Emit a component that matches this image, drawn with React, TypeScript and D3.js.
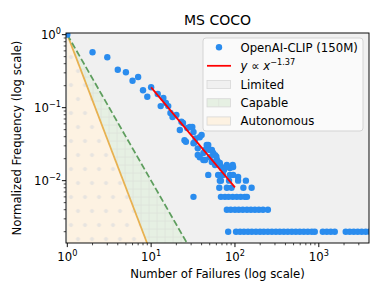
import React from 'react';
import * as d3 from 'd3';

const W = 382;
const H = 297;
const plot = { left: 66, right: 369, top: 33, bottom: 243 };

const xDomain: [number, number] = [0.965, 3970];
const yDomain: [number, number] = [0.0014, 1.054];

// leading points (1..10 failures)
const headFailures = [1, 2, 3, 4, 5, 6, 7, 8, 9, 10];
const headFreq = [1.0, 0.573, 0.49, 0.331, 0.305, 0.234, 0.263, 0.173, 0.141, 0.19];

// cloud around the fitted line
const cloudFailures = [12, 14, 13, 16, 15, 17, 18, 20, 22, 24, 27, 31, 32, 25, 32, 38, 36, 38, 42, 42, 48, 53, 58, 61, 66, 70, 80, 87, 95, 109, 46, 50, 55, 33, 29, 34, 44, 50, 63, 74, 53, 58, 36, 44, 66, 23, 26, 40, 60, 78, 94];
const cloudFreq = [0.154, 0.136, 0.105, 0.105, 0.116, 0.0845, 0.0745, 0.0794, 0.0494, 0.0616, 0.0526, 0.0543, 0.0464, 0.0357, 0.0325, 0.0393, 0.0277, 0.0209, 0.0239, 0.0192, 0.0308, 0.0263, 0.0224, 0.0192, 0.0175, 0.0149, 0.0164, 0.0149, 0.0154, 0.0112, 0.0308, 0.0263, 0.0239, 0.0336, 0.0543, 0.038, 0.0263, 0.0209, 0.018, 0.014, 0.018, 0.0164, 0.0225, 0.0192, 0.0164, 0.0642, 0.0342, 0.0422, 0.0213, 0.0155, 0.0164];

// quantized tail rows: frequency level and failure counts on it
const row012 = [48, 63, 70, 72, 87, 95];
const row010 = [66, 68, 85, 109, 135];
const row008 = [65, 80, 91, 126, 158];
const row006 = [32, 68, 76, 84, 94, 105, 117, 131, 139];
const row004 = [80, 89, 100, 111, 124, 139, 155, 173, 193, 216, 247];
const row002 = [83, 103, 115, 128, 143, 159, 178, 199, 221, 247, 276, 308, 343, 383, 427, 477, 532, 594, 663, 740, 826, 896, 1116, 1245, 1389, 1550, 2094, 2337, 2610, 2912, 3250, 3627, 4047];
const rowLevels = [0.012, 0.010, 0.008, 0.006, 0.004, 0.002];
const rows = [row012, row010, row008, row006, row004, row002];

// power-law fit
const fitExponent = -1.37;
const fitAnchor = 0.19;
const fitRange = [10, 100];

// region boundaries y = x^k
const capableExponent = -2;
const autonomousExponent = -3;
const boundaryX = [1, 60];

const xTickExp = ['0', '1', '2', '3'];
const yTickExp = ['0', '−1', '−2'];

const FONT = 'DejaVu Sans, sans-serif';
const FS = 11.7;
const BLUE = '#2a8cee';

const Pow: React.FC<{ exp: string }> = ({ exp }) => (
  <>
    <tspan>10</tspan>
    <tspan dy={-5.2} fontSize={8.2}>{exp}</tspan>
  </>
);

export default function App() {
  const x = d3.scaleLog().domain(xDomain).range([plot.left, plot.right]);
  const y = d3.scaleLog().domain(yDomain).range([plot.bottom, plot.top]);

  const points: [number, number][] = [];
  headFailures.forEach((f, i) => points.push([f, headFreq[i]]));
  cloudFailures.forEach((f, i) => points.push([f, cloudFreq[i]]));
  rows.forEach((r, i) => r.forEach(f => points.push([f, rowLevels[i]])));

  const line = d3.line<[number, number]>().x(d => x(d[0])).y(d => y(d[1]));
  const boundary = (k: number): [number, number][] => boundaryX.map(v => [v, Math.pow(v, k)] as [number, number]);
  const floor = 1e-5;
  const regionPath = (k: number) => {
    const b = boundary(k);
    return line([...b, [b[1][0], floor], [b[0][0], floor]]) + 'Z';
  };
  const fitPts: [number, number][] = fitRange.map(v => [v, fitAnchor * Math.pow(v / fitRange[0], fitExponent)]);

  const xTicks = x.ticks();
  const yTicks = y.ticks();
  const isMajor = (v: number) => Math.abs(Math.log10(v) - Math.round(Math.log10(v))) < 1e-9;
  const xMajors = [1, 10, 100, 1000];
  const yMajors = [1, 0.1, 0.01];

  const lg = { x: 203, y: 38, w: 160, h: 93 };
  const rowY = [47.3, 65.8, 84.5, 102.8, 121];
  const textX = 240.5;

  return (
    <svg width={W} height={H} style={{ position: 'absolute', left: 0, top: 0 }} fontFamily={FONT}>
      <defs>
        <clipPath id="plotClip">
          <rect x={plot.left} y={plot.top} width={plot.right - plot.left} height={plot.bottom - plot.top} />
        </clipPath>
        <pattern id="gridHatch" patternUnits="userSpaceOnUse" width={8} height={8} x={1} y={1}>
          <rect width={8} height={8} fill="#e6f0e3" />
          <path d="M4 0V8M0 4H8" stroke="#dde2db" strokeWidth={0.8} />
        </pattern>
        <pattern id="dotHatch" patternUnits="userSpaceOnUse" width={14} height={28} x={67.5} y={50}>
          <rect width={14} height={28} fill="#fdf2e2" />
          <circle cx={3.5} cy={7} r={1.6} fill="#e8e5e0" stroke="#dcdcdc" strokeWidth={0.6} />
          <circle cx={10.5} cy={21} r={1.6} fill="#e8e5e0" stroke="#dcdcdc" strokeWidth={0.6} />
        </pattern>
      </defs>

      <rect x={plot.left} y={plot.top} width={plot.right - plot.left} height={plot.bottom - plot.top} fill="#f0f0f0" />

      <g clipPath="url(#plotClip)">
        <path d={regionPath(capableExponent)} fill="url(#gridHatch)" />
        <path d={regionPath(autonomousExponent)} fill="url(#dotHatch)" />
        <path d={line(boundary(autonomousExponent)) || ''} fill="none" stroke="#e8b150" strokeWidth={1.75} />
        <path d={line(boundary(capableExponent)) || ''} fill="none" stroke="#5e9e5e" strokeWidth={1.75} strokeDasharray="6.5,2.8" />
        {points.map((p, i) => (
          <circle key={i} cx={x(p[0])} cy={y(p[1])} r={3.2} fill={BLUE} />
        ))}
        <path d={line(fitPts) || ''} fill="none" stroke="#ff0000" strokeWidth={1.75} />
      </g>

      <rect x={plot.left} y={plot.top} width={plot.right - plot.left} height={plot.bottom - plot.top} fill="none" stroke="#000" strokeWidth={0.95} />

      {xTicks.map((t, i) => (
        <line key={'xt' + i} x1={x(t)} x2={x(t)} y1={plot.bottom} y2={plot.bottom + (isMajor(t) ? 4.1 : 2.3)} stroke="#000" strokeWidth={isMajor(t) ? 0.95 : 0.7} />
      ))}
      {xMajors.map((t, i) => (
        <text key={'xl' + i} x={x(t)} y={261} textAnchor="middle" fontSize={FS}>
          <Pow exp={xTickExp[i]} />
        </text>
      ))}
      {yTicks.map((t, i) => (
        <line key={'yt' + i} y1={y(t)} y2={y(t)} x1={plot.left} x2={plot.left - (isMajor(t) ? 4.1 : 2.3)} stroke="#000" strokeWidth={isMajor(t) ? 0.95 : 0.7} />
      ))}
      {yMajors.map((t, i) => (
        <text key={'yl' + i} x={61} y={y(t) + 4.2} textAnchor="end" fontSize={FS}>
          <Pow exp={yTickExp[i]} />
        </text>
      ))}

      <text x={(plot.left + plot.right) / 2} y={25} textAnchor="middle" fontSize={14}>MS COCO</text>
      <text x={(plot.left + plot.right) / 2} y={278} textAnchor="middle" fontSize={FS}>Number of Failures (log scale)</text>
      <text transform={`translate(21,${(plot.top + plot.bottom) / 2}) rotate(-90)`} textAnchor="middle" fontSize={FS}>Normalized Frequency (log scale)</text>

      <g fontSize={FS}>
        <rect x={lg.x} y={lg.y} width={lg.w} height={lg.h} rx={3} fill="#fcfcfc" fillOpacity={0.85} stroke="#d0d0d0" strokeWidth={0.9} />
        <circle cx={219} cy={rowY[0]} r={3.2} fill={BLUE} />
        <text x={textX} y={rowY[0] + 4.2}>OpenAI-CLIP (150M)</text>
        <line x1={207} x2={231} y1={rowY[1]} y2={rowY[1]} stroke="#ff0000" strokeWidth={1.75} />
        <text x={textX} y={rowY[1] + 4.2}>
          <tspan fontStyle="italic">y</tspan>
          <tspan> ∝ </tspan>
          <tspan fontStyle="italic">x</tspan>
          <tspan dy={-5.2} fontSize={8.2}>−1.37</tspan>
        </text>
        <rect x={207} y={rowY[2] - 4.1} width={23.4} height={8.2} fill="#f0f0f0" stroke="#d8d8d8" strokeWidth={0.8} />
        <text x={textX} y={rowY[2] + 4.2}>Limited</text>
        <rect x={207} y={rowY[3] - 4.1} width={23.4} height={8.2} fill="#e6f0e3" stroke="#d8d8d8" strokeWidth={0.8} />
        <line x1={218.7} x2={218.7} y1={rowY[3] - 4.1} y2={rowY[3] + 4.1} stroke="#dde2db" strokeWidth={0.8} />
        <text x={textX} y={rowY[3] + 4.2}>Capable</text>
        <rect x={207} y={rowY[4] - 4.1} width={23.4} height={8.2} fill="#fdf2e2" stroke="#d8d8d8" strokeWidth={0.8} />
        <text x={textX} y={rowY[4] + 4.2}>Autonomous</text>
      </g>
    </svg>
  );
}
